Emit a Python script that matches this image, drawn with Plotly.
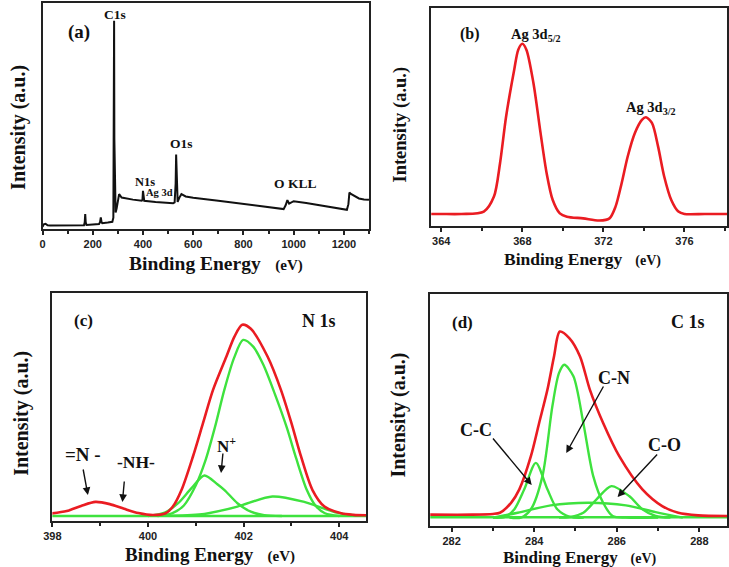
import plotly.graph_objects as go

# ---------------- data ----------------
# (a) survey spectrum
survey_be = [0, 5, 12, 20, 30, 100, 165, 168, 170, 172, 175, 200, 225, 229, 232, 235, 238, 260, 278, 282,
             284, 285, 286, 288, 291, 295, 300, 305, 315, 330, 360, 395, 398, 400, 402, 405, 450, 500, 520,
             526, 530, 532, 534, 538, 545, 553, 570, 600, 700, 800, 900, 960, 968, 975, 982, 990, 1000,
             1050, 1100, 1150, 1200, 1212, 1218, 1222, 1228, 1240, 1260, 1280, 1300]
survey_int = [1.0, 2.1, 2.3, 1.6, 1.5, 1.6, 1.7, 3.0, 6.6, 3.0, 1.8, 2.0, 2.2, 3.0, 5.1, 3.0, 2.6, 2.9, 3.2, 5.0,
              40, 92.1, 40, 10, 7.3, 9.0, 13.2, 15.4, 13.9, 13.5, 13.0, 12.5, 13.0, 16.9, 13.0, 12.5, 12.0, 11.7, 11.4,
              11.8, 20, 33.0, 20, 12.0, 13.9, 15.4, 14.4, 13.8, 12.5, 11.0, 9.5, 8.8, 10.5, 12.8, 11.2, 11.8, 12.3,
              11.5, 10.6, 9.7, 8.8, 8.5, 11.0, 16.1, 15.5, 14.7, 13.5, 13.1, 12.9]

# (b) Ag 3d
ag_be = [363.5, 364, 365, 366.1, 366.6, 366.9, 367.2, 367.6, 367.8, 368.0, 368.2, 368.55, 368.9, 369.2, 369.5,
         369.85, 370.2, 371.0, 371.8, 372.3, 372.6, 372.9, 373.2, 373.55, 373.9, 374.1, 374.4, 374.7, 375.0,
         375.35, 375.7, 376.0, 377.0, 378.1]
ag_int = [5.5, 5.5, 5.5, 6.6, 13.5, 28.8, 50.2, 71.7, 80.9, 83.6, 80.9, 65.5, 42.6, 24.2, 11.9,
          5.8, 4.3, 3.5, 2.5, 3.5, 8.9, 19.6, 31.9, 42.6, 48.7, 49.9, 47.2, 36.4, 22.7,
          11.9, 6.6, 5.5, 5.5, 5.5]

# (c) N 1s
n_env_be = [397.9, 398.3, 398.6, 398.9, 399.2, 399.5, 399.8, 400.1, 400.37, 400.52, 400.7, 400.94, 401.15, 401.36,
            401.64, 401.81, 401.97, 402.15, 402.5, 402.78, 403.0, 403.2, 403.44, 403.69, 404.04, 404.3, 404.56]
n_env = [1.2, 2.5, 4.8, 6.6, 5.6, 3.5, 1.6, 0.7, 1.5, 4.5, 11.9, 26.9, 41.8, 56.7,
         71.6, 80.6, 85.8, 84.0, 71.6, 56.7, 41.8, 26.9, 11.9, 4.5, 1.5, 0.8, 0.6]
n_main_be = [400.2, 400.5, 400.75, 401.0, 401.2, 401.4, 401.6, 401.8, 401.99, 402.2, 402.41, 402.65, 402.9,
             403.1, 403.32, 403.5, 403.7, 404.0]
n_main = [0.3, 1.5, 5.0, 14.0, 25.0, 40.0, 57.0, 71.0, 79.0, 76.0, 68.0, 55.0, 40.0, 26.0, 12.0, 5.0, 1.5, 0.3]
n_plus_be = [400.0, 400.35, 400.63, 400.9, 401.18, 401.45, 401.6, 401.87, 402.15, 402.43, 402.8]
n_plus = [0.3, 1.8, 6.0, 12.5, 18.4, 14.5, 11.9, 6.0, 2.2, 0.7, 0.3]
n_broad_be = [400.49, 401.18, 401.87, 402.6, 403.25, 403.67, 403.95, 404.3]
n_broad = [0.4, 1.2, 4.5, 9.0, 6.7, 3.7, 1.8, 0.6]
n_base_be = [397.9, 404.56]
n_base = [0.3, 0.3]

# (d) C 1s
c_env_be = [281.48, 282.5, 283.0, 283.17, 283.44, 283.64, 283.92, 284.12, 284.32, 284.48, 284.62, 284.85, 285.11,
            285.35, 285.67, 286.06, 286.62, 287.10, 287.49, 287.97, 288.67]
c_env = [4.9, 4.9, 5.2, 5.7, 10.0, 15.8, 30.1, 44.4, 58.7, 73.1, 83.8, 81.0, 73.1,
         58.7, 44.4, 30.1, 15.8, 8.6, 5.7, 4.6, 4.3]
cn_be = [283.4, 283.68, 283.92, 284.2, 284.44, 284.6, 284.73, 284.95, 285.19, 285.43, 285.67, 285.9, 286.22, 287.0]
cn_int = [3.6, 3.6, 7.2, 21.5, 51.6, 65.9, 69.5, 64.5, 44.4, 21.5, 10.0, 4.3, 3.6, 3.6]
cc_be = [283.0, 283.29, 283.52, 283.76, 284.04, 284.32, 284.56, 284.87, 285.2]
cc_int = [3.6, 3.9, 7.2, 15.8, 27.2, 15.8, 7.2, 3.9, 3.6]
co_be = [284.6, 284.87, 285.19, 285.51, 285.87, 286.30, 286.62, 286.94, 287.3]
co_int = [3.6, 3.9, 5.7, 11.5, 17.2, 12.9, 7.2, 4.3, 3.6]
cbr_be = [283.0, 283.6, 284.4, 285.31, 286.22, 286.94, 287.6]
cbr_int = [3.6, 5.7, 8.9, 10.0, 8.9, 6.0, 3.6]
c_base_be = [281.48, 288.67]
c_base = [3.8, 3.8]

# ---------------- styling ----------------
W, H = 729, 567
RED = "#ea1c22"
GREEN = "#3ee23e"
SERIF = "Liberation Serif"
SANS = "Liberation Sans"


def px(x):
    return x / W


def py(y):
    return 1 - y / H


fig = go.Figure()

fig.add_trace(go.Scatter(x=survey_be, y=survey_int, mode="lines", line=dict(color="#111", width=2),
                         xaxis="x", yaxis="y"))
fig.add_trace(go.Scatter(x=ag_be, y=ag_int, mode="lines", line=dict(color=RED, width=2.6, shape="spline", smoothing=0.8),
                         xaxis="x2", yaxis="y2"))

for xs, ys in [(n_base_be, n_base), (n_main_be, n_main), (n_plus_be, n_plus), (n_broad_be, n_broad)]:
    fig.add_trace(go.Scatter(x=xs, y=ys, mode="lines", line=dict(color=GREEN, width=2.4, shape="spline", smoothing=0.8),
                             xaxis="x3", yaxis="y3"))
fig.add_trace(go.Scatter(x=n_env_be, y=n_env, mode="lines", line=dict(color=RED, width=2.6, shape="spline", smoothing=0.8),
                         xaxis="x3", yaxis="y3"))

for xs, ys in [(c_base_be, c_base), (cbr_be, cbr_int), (cc_be, cc_int), (co_be, co_int), (cn_be, cn_int)]:
    fig.add_trace(go.Scatter(x=xs, y=ys, mode="lines", line=dict(color=GREEN, width=2.4, shape="spline", smoothing=0.8),
                             xaxis="x4", yaxis="y4"))
fig.add_trace(go.Scatter(x=c_env_be, y=c_env, mode="lines", line=dict(color=RED, width=2.6, shape="spline", smoothing=0.8),
                         xaxis="x4", yaxis="y4"))


def xax(domain, rng, dtick, minor, anchor, tick0=0):
    return dict(domain=domain, range=rng, anchor=anchor, dtick=dtick, tick0=tick0,
                showline=True, linecolor="#222", linewidth=1.8, mirror=True,
                ticks="outside", ticklen=4, tickwidth=1.5, tickcolor="#222",
                minor=dict(ticks="outside", dtick=minor, tick0=tick0, ticklen=3, tickwidth=1.5, tickcolor="#222"),
                showgrid=False, zeroline=False,
                tickfont=dict(family=SANS, size=11, color="#222", weight="bold"))


def yax(domain, rng, anchor):
    return dict(domain=domain, range=rng, anchor=anchor, showline=True, linecolor="#222", linewidth=1.8,
                mirror=True, ticks="", showticklabels=False, showgrid=False, zeroline=False)


fig.update_layout(
    width=W, height=H, margin=dict(l=0, r=0, t=0, b=0),
    paper_bgcolor="white", plot_bgcolor="white", showlegend=False,
    xaxis=xax([px(34), px(365)], [0, 1300], 200, 100, "y"),
    yaxis=yax([py(229), py(3)], [0, 100], "x"),
    xaxis2=xax([px(428), px(728)], [363.5, 378.1], 4, 2, "y2", tick0=364),
    yaxis2=yax([py(226), py(8)], [0, 100], "x2"),
    xaxis3=xax([px(44), px(362)], [398, 404.56], 2, 1, "y3", tick0=398),
    yaxis3=yax([py(521), py(293)], [-1.95, 100], "x3"),
    xaxis4=xax([px(427), px(728)], [281.48, 288.67], 2, 1, "y4", tick0=282),
    yaxis4=yax([py(526), py(294)], [0, 100], "x4"),
)

ann = []


def label(text, x, y, size, angle=0):
    ann.append(dict(text=text, x=px(x), y=py(y), xref="paper", yref="paper", showarrow=False,
                    xanchor="center", yanchor="middle", textangle=angle,
                    font=dict(family=SERIF, size=size, color="#111", weight="bold")))


def arrow(hx, hy, tx, ty):
    ann.append(dict(text="", x=px(hx), y=py(hy), xref="paper", yref="paper", showarrow=True,
                    ax=tx - hx, ay=ty - hy, arrowhead=2, arrowsize=1.1, arrowwidth=1.4, arrowcolor="#111"))


# y titles
label("Intensity (a.u.)", 9, 127, 20, -90)
label("Intensity (a.u.)", 397, 125, 18.5, -90)
label("Intensity (a.u.)", 12, 413, 20, -90)
label("Intensity (a.u.)", 394, 415, 20, -90)
# x titles
xt = "Binding Energy&nbsp;&nbsp;&nbsp;<span style='font-size:15px'>(eV)</span>"
label(xt, 210, 263, 19.5)
label(xt.replace("15px", "14px"), 581, 259, 17.5)
label(xt, 204, 554, 19)
label(xt.replace("15px", "14px"), 579, 557, 17)

# panel a
label("(a)", 71, 32, 19)
label("C1s", 107, 14, 13.5)
label("N1s", 138, 182, 12.5)
label("Ag 3d", 153, 193, 10.5)
label("O1s", 175, 143, 13.5)
label("O KLL", 290, 183, 13.5)
# panel b
label("(b)", 467, 34, 16)
label("Ag 3d<sub>5/2</sub>", 534, 35, 14.5)
label("Ag 3d<sub>3/2</sub>", 651, 108, 14.5)
# panel c
label("(c)", 76, 320, 17)
label("N 1s", 314, 321, 18)
label("=N -", 75, 454, 19)
label("-NH-", 129, 462, 17.5)
label("N<sup>+</sup>", 221, 445, 17)
arrow(80, 495, 75, 468)
arrow(115, 502, 117, 480)
arrow(215, 473, 217, 452)
# panel d
label("(d)", 460, 322, 17)
label("C 1s", 688, 322, 18)
label("C-N", 613, 378, 18)
label("C-C", 473, 430, 18)
label("C-O", 665, 445, 18)
arrow(565, 453, 603, 385)
arrow(530, 485, 490, 437)
arrow(617, 497, 658, 453)

fig.update_layout(annotations=ann)
fig.write_html("out.html", config={"displayModeBar": False},
               post_script="document.body.style.margin='0';document.body.style.overflow='hidden';")
